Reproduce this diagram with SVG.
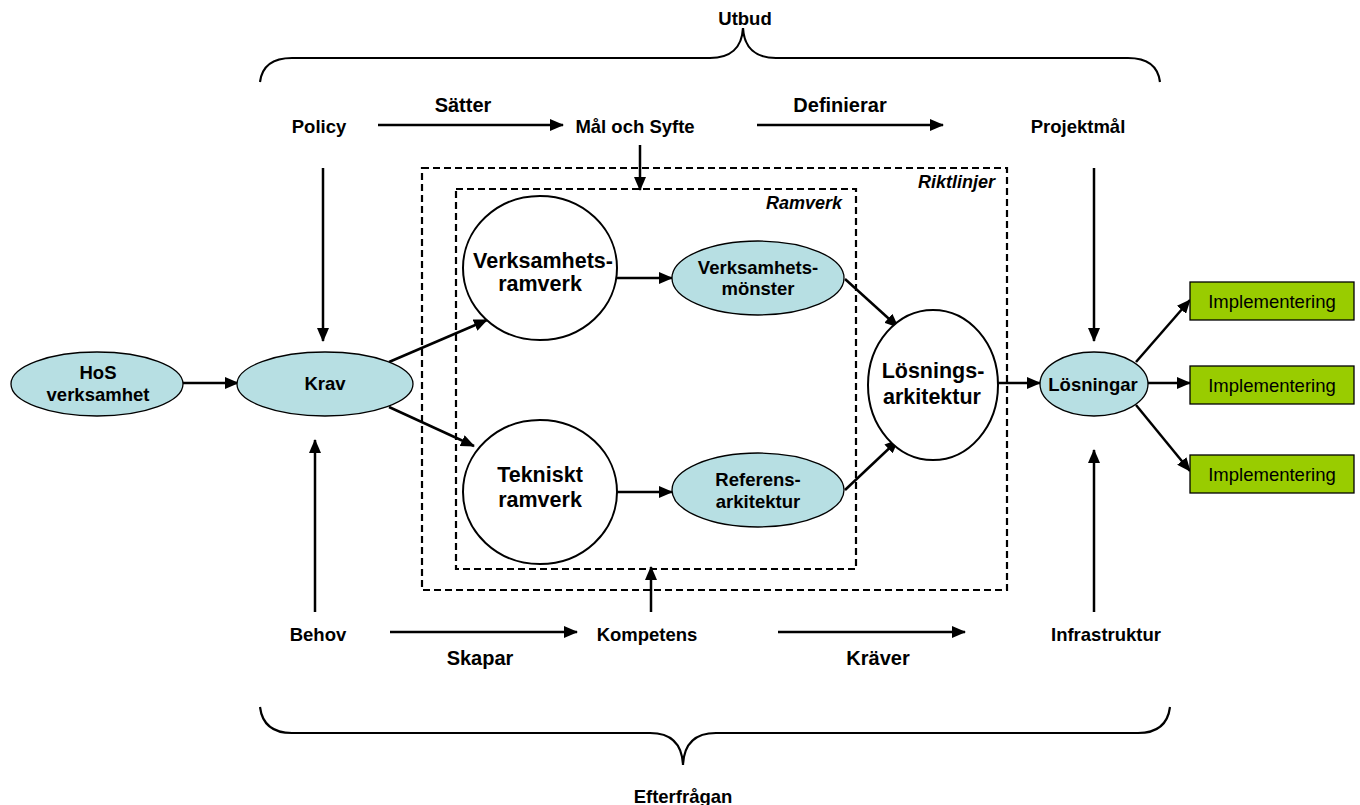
<svg xmlns="http://www.w3.org/2000/svg" width="1360" height="805" viewBox="0 0 1360 805">
  <defs>
    <marker id="arr" markerUnits="userSpaceOnUse" markerWidth="14" markerHeight="12" refX="13" refY="6" orient="auto">
      <path d="M0,0 L14,6 L0,12 Z" fill="#000"/>
    </marker>
  </defs>
  <style>
    text { font-family: "Liberation Sans", Arial, sans-serif; fill: #000; text-anchor: middle; }
    .lbl { font-weight: bold; font-size: 18.5px; }
    .edge { font-weight: bold; font-size: 20px; }
    .big { font-weight: bold; font-size: 21.5px; }
    .node { font-weight: bold; font-size: 18.5px; }
    .ital { font-weight: bold; font-style: italic; font-size: 18px; text-anchor: end; }
    .impl { font-size: 18.5px; }
    .blue { fill: #b7dfe3; stroke: #000; stroke-width: 1.3; }
    .white { fill: #fff; stroke: #000; stroke-width: 2; }
    .green { fill: #99cc00; stroke: #000; stroke-width: 1.3; }
    .dash { fill: none; stroke: #000; stroke-width: 2.2; stroke-dasharray: 7 4; }
    .brace { fill: none; stroke: #000; stroke-width: 2.2; }
    .conn line { stroke: #000; stroke-width: 2.5; marker-end: url(#arr); }
  </style>

  <!-- braces -->
  <g id="braces">
    <path class="brace" d="M260,82 C262,66 272,58 292,58 L710,58 C730,58 742,48 743,28 C744,48 756,58 776,58 L1128,58 C1148,58 1158,66 1160,82"/>
    <path class="brace" d="M260,707 C262,723 272,733 292,733 L650,733 C670,733 682,743 683,765 C684,743 696,733 716,733 L1138,733 C1158,733 1168,723 1170,707"/>
    <text class="lbl" x="745" y="25">Utbud</text>
    <text class="lbl" x="683" y="803">Efterfrågan</text>
  </g>

  <!-- containers -->
  <g id="riktlinjer">
    <rect class="dash" x="422" y="168" width="585" height="422"/>
    <text class="ital" x="995" y="188">Riktlinjer</text>
  </g>
  <g id="ramverk">
    <rect class="dash" x="456" y="189" width="400" height="380"/>
    <text class="ital" x="842" y="209">Ramverk</text>
  </g>

  <!-- plain labels -->
  <g id="policy"><text class="lbl" x="319" y="133">Policy</text></g>
  <g id="mal"><text class="lbl" x="635" y="133">Mål och Syfte</text></g>
  <g id="projektmal"><text class="lbl" x="1078" y="133">Projektmål</text></g>
  <g id="behov"><text class="lbl" x="318" y="641">Behov</text></g>
  <g id="kompetens"><text class="lbl" x="647" y="641">Kompetens</text></g>
  <g id="infrastruktur"><text class="lbl" x="1106" y="641">Infrastruktur</text></g>

  <!-- connectors -->
  <g id="connectors" class="conn">
    <line x1="378" y1="125" x2="563" y2="125"/>
    <line x1="757" y1="125" x2="943" y2="125"/>
    <line x1="640" y1="145" x2="640" y2="190"/>
    <line x1="323" y1="168" x2="323" y2="341"/>
    <line x1="1094" y1="168" x2="1094" y2="341"/>
    <line x1="390" y1="632" x2="577" y2="632"/>
    <line x1="778" y1="632" x2="965" y2="632"/>
    <line x1="315" y1="612" x2="315" y2="440"/>
    <line x1="651" y1="612" x2="651" y2="567"/>
    <line x1="1094" y1="612" x2="1094" y2="450"/>
    <line x1="183" y1="383" x2="238" y2="383"/>
    <line x1="389" y1="362" x2="487" y2="320"/>
    <line x1="389" y1="407" x2="474" y2="446"/>
    <line x1="617" y1="278" x2="672" y2="278"/>
    <line x1="617" y1="492" x2="672" y2="492"/>
    <line x1="845" y1="279" x2="898" y2="327"/>
    <line x1="845" y1="490" x2="898" y2="440"/>
    <line x1="998" y1="383" x2="1040" y2="383"/>
    <line x1="1136" y1="362" x2="1190" y2="300"/>
    <line x1="1148" y1="383" x2="1190" y2="383"/>
    <line x1="1136" y1="405" x2="1190" y2="471"/>
  </g>
  <g id="edge-labels">
    <text class="edge" x="463" y="112">Sätter</text>
    <text class="edge" x="840" y="112">Definierar</text>
    <text class="edge" x="480" y="665">Skapar</text>
    <text class="edge" x="878" y="665">Kräver</text>
  </g>

  <!-- nodes -->
  <g id="hos">
    <ellipse class="blue" cx="97" cy="384" rx="86" ry="32"/>
    <text class="node" x="98" y="379">HoS</text>
    <text class="node" x="98" y="401">verksamhet</text>
  </g>
  <g id="krav">
    <ellipse class="blue" cx="325" cy="384" rx="88" ry="32"/>
    <text class="node" x="325" y="390">Krav</text>
  </g>
  <g id="verksamhetsramverk">
    <ellipse class="white" cx="540" cy="268" rx="77" ry="72"/>
    <text class="big" x="543" y="268">Verksamhets-</text>
    <text class="big" x="540" y="291">ramverk</text>
  </g>
  <g id="tekniskt">
    <ellipse class="white" cx="540" cy="492" rx="77" ry="72"/>
    <text class="big" x="540" y="482">Tekniskt</text>
    <text class="big" x="540" y="507">ramverk</text>
  </g>
  <g id="verksamhetsmonster">
    <ellipse class="blue" cx="758" cy="278" rx="86" ry="37"/>
    <text class="node" x="758" y="274">Verksamhets-</text>
    <text class="node" x="758" y="295">mönster</text>
  </g>
  <g id="referensarkitektur">
    <ellipse class="blue" cx="758" cy="490" rx="86" ry="37"/>
    <text class="node" x="758" y="486">Referens-</text>
    <text class="node" x="758" y="508">arkitektur</text>
  </g>
  <g id="losningsarkitektur">
    <ellipse class="white" cx="933" cy="385" rx="65" ry="75"/>
    <text class="big" x="933" y="378">Lösnings-</text>
    <text class="big" x="932" y="404">arkitektur</text>
  </g>
  <g id="losningar">
    <ellipse class="blue" cx="1094" cy="384" rx="54" ry="32"/>
    <text class="node" x="1093" y="391">Lösningar</text>
  </g>
  <g id="impl1">
    <rect class="green" x="1190" y="282" width="164" height="38"/>
    <text class="impl" x="1272" y="308">Implementering</text>
  </g>
  <g id="impl2">
    <rect class="green" x="1190" y="366" width="164" height="38"/>
    <text class="impl" x="1272" y="392">Implementering</text>
  </g>
  <g id="impl3">
    <rect class="green" x="1190" y="455" width="164" height="38"/>
    <text class="impl" x="1272" y="481">Implementering</text>
  </g>
</svg>
